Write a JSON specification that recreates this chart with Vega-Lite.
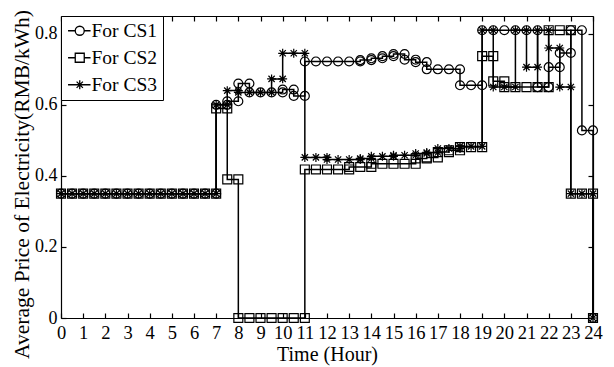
{
"$schema": "https://vega.github.io/schema/vega-lite/v6.json",
"width": 532, "height": 302,
"autosize": {"type": "none"},
"padding": {"left": 61, "top": 16, "right": 21, "bottom": 49},
"background": "white",
"config": {
  "font": "Liberation Serif",
  "view": {"stroke": null},
  "axis": {"labelFont": "Liberation Serif", "titleFont": "Liberation Serif", "labelColor": "black", "titleColor": "black", "titleFontWeight": "normal", "domainColor": "black", "domainWidth": 1.2, "tickColor": "black", "tickWidth": 1.2, "grid": false, "tickSize": -5, "labelOverlap": false, "labelFlush": false},
  "legend": {"labelFont": "Liberation Serif"}
},
"data": {"values": [
{"s":"For CS1","i":0,"t":0,"v":0.35},{"s":"For CS1","i":1,"t":0.5,"v":0.35},{"s":"For CS1","i":2,"t":1,"v":0.35},{"s":"For CS1","i":3,"t":1.5,"v":0.35},{"s":"For CS1","i":4,"t":2,"v":0.35},{"s":"For CS1","i":5,"t":2.5,"v":0.35},{"s":"For CS1","i":6,"t":3,"v":0.35},{"s":"For CS1","i":7,"t":3.5,"v":0.35},{"s":"For CS1","i":8,"t":4,"v":0.35},{"s":"For CS1","i":9,"t":4.5,"v":0.35},{"s":"For CS1","i":10,"t":5,"v":0.35},{"s":"For CS1","i":11,"t":5.5,"v":0.35},{"s":"For CS1","i":12,"t":6,"v":0.35},{"s":"For CS1","i":13,"t":6.5,"v":0.35},{"s":"For CS1","i":14,"t":7,"v":0.35},
{"s":"For CS1","i":15,"t":7,"v":0.6},{"s":"For CS1","i":16,"t":7.5,"v":0.6},{"s":"For CS1","i":17,"t":7.5,"v":0.61},{"s":"For CS1","i":18,"t":8,"v":0.61},{"s":"For CS1","i":19,"t":8,"v":0.66},{"s":"For CS1","i":20,"t":8.5,"v":0.66},{"s":"For CS1","i":21,"t":8.5,"v":0.635},{"s":"For CS1","i":22,"t":9,"v":0.635},{"s":"For CS1","i":23,"t":9.5,"v":0.635},{"s":"For CS1","i":24,"t":10,"v":0.635},{"s":"For CS1","i":25,"t":10,"v":0.643},{"s":"For CS1","i":26,"t":10.5,"v":0.643},{"s":"For CS1","i":27,"t":10.5,"v":0.625},{"s":"For CS1","i":28,"t":11,"v":0.625},
{"s":"For CS1","i":29,"t":11,"v":0.722},{"s":"For CS1","i":30,"t":11.5,"v":0.722},{"s":"For CS1","i":31,"t":12,"v":0.722},{"s":"For CS1","i":32,"t":12.5,"v":0.722},{"s":"For CS1","i":33,"t":13,"v":0.722},{"s":"For CS1","i":34,"t":13.5,"v":0.722},{"s":"For CS1","i":35,"t":13.5,"v":0.726},{"s":"For CS1","i":36,"t":14,"v":0.726},{"s":"For CS1","i":37,"t":14,"v":0.731},{"s":"For CS1","i":38,"t":14.5,"v":0.731},{"s":"For CS1","i":39,"t":14.5,"v":0.737},{"s":"For CS1","i":40,"t":15,"v":0.737},{"s":"For CS1","i":41,"t":15,"v":0.743},{"s":"For CS1","i":42,"t":15.5,"v":0.743},{"s":"For CS1","i":43,"t":15.5,"v":0.727},{"s":"For CS1","i":44,"t":16,"v":0.727},{"s":"For CS1","i":45,"t":16,"v":0.72},{"s":"For CS1","i":46,"t":16.5,"v":0.72},{"s":"For CS1","i":47,"t":16.5,"v":0.7},{"s":"For CS1","i":48,"t":17,"v":0.7},{"s":"For CS1","i":49,"t":17.5,"v":0.7},{"s":"For CS1","i":50,"t":18,"v":0.7},{"s":"For CS1","i":51,"t":18,"v":0.655},{"s":"For CS1","i":52,"t":18.5,"v":0.655},{"s":"For CS1","i":53,"t":19,"v":0.655},
{"s":"For CS1","i":54,"t":19,"v":0.81},{"s":"For CS1","i":55,"t":19.5,"v":0.81},{"s":"For CS1","i":56,"t":20,"v":0.81},{"s":"For CS1","i":57,"t":20.5,"v":0.81},{"s":"For CS1","i":58,"t":21,"v":0.81},{"s":"For CS1","i":59,"t":21.5,"v":0.81},{"s":"For CS1","i":60,"t":21.5,"v":0.65},{"s":"For CS1","i":61,"t":22,"v":0.65},{"s":"For CS1","i":62,"t":22,"v":0.706},{"s":"For CS1","i":63,"t":22.5,"v":0.706},{"s":"For CS1","i":64,"t":22.5,"v":0.746},{"s":"For CS1","i":65,"t":23,"v":0.746},{"s":"For CS1","i":66,"t":23,"v":0.81},{"s":"For CS1","i":67,"t":23.5,"v":0.81},{"s":"For CS1","i":68,"t":23.5,"v":0.528},{"s":"For CS1","i":69,"t":24,"v":0.528},{"s":"For CS1","i":70,"t":24,"v":0},
{"s":"For CS2","i":0,"t":0,"v":0.35},{"s":"For CS2","i":1,"t":0.5,"v":0.35},{"s":"For CS2","i":2,"t":1,"v":0.35},{"s":"For CS2","i":3,"t":1.5,"v":0.35},{"s":"For CS2","i":4,"t":2,"v":0.35},{"s":"For CS2","i":5,"t":2.5,"v":0.35},{"s":"For CS2","i":6,"t":3,"v":0.35},{"s":"For CS2","i":7,"t":3.5,"v":0.35},{"s":"For CS2","i":8,"t":4,"v":0.35},{"s":"For CS2","i":9,"t":4.5,"v":0.35},{"s":"For CS2","i":10,"t":5,"v":0.35},{"s":"For CS2","i":11,"t":5.5,"v":0.35},{"s":"For CS2","i":12,"t":6,"v":0.35},{"s":"For CS2","i":13,"t":6.5,"v":0.35},{"s":"For CS2","i":14,"t":7,"v":0.35},
{"s":"For CS2","i":15,"t":7,"v":0.59},{"s":"For CS2","i":16,"t":7.5,"v":0.59},{"s":"For CS2","i":17,"t":7.5,"v":0.39},{"s":"For CS2","i":18,"t":8,"v":0.39},{"s":"For CS2","i":19,"t":8,"v":0},{"s":"For CS2","i":20,"t":8.5,"v":0},{"s":"For CS2","i":21,"t":9,"v":0},{"s":"For CS2","i":22,"t":9.5,"v":0},{"s":"For CS2","i":23,"t":10,"v":0},{"s":"For CS2","i":24,"t":10.5,"v":0},{"s":"For CS2","i":25,"t":11,"v":0},
{"s":"For CS2","i":26,"t":11,"v":0.418},{"s":"For CS2","i":27,"t":11.5,"v":0.418},{"s":"For CS2","i":28,"t":12,"v":0.418},{"s":"For CS2","i":29,"t":12.5,"v":0.418},{"s":"For CS2","i":30,"t":13,"v":0.418},{"s":"For CS2","i":31,"t":13,"v":0.425},{"s":"For CS2","i":32,"t":13.5,"v":0.425},{"s":"For CS2","i":33,"t":14,"v":0.425},{"s":"For CS2","i":34,"t":14,"v":0.434},{"s":"For CS2","i":35,"t":14.5,"v":0.434},{"s":"For CS2","i":36,"t":15,"v":0.434},{"s":"For CS2","i":37,"t":15.5,"v":0.434},{"s":"For CS2","i":38,"t":16,"v":0.434},{"s":"For CS2","i":39,"t":16,"v":0.449},{"s":"For CS2","i":40,"t":16.5,"v":0.449},{"s":"For CS2","i":41,"t":16.5,"v":0.452},{"s":"For CS2","i":42,"t":17,"v":0.452},{"s":"For CS2","i":43,"t":17,"v":0.467},{"s":"For CS2","i":44,"t":17.5,"v":0.467},{"s":"For CS2","i":45,"t":17.5,"v":0.472},{"s":"For CS2","i":46,"t":18,"v":0.472},{"s":"For CS2","i":47,"t":18,"v":0.481},{"s":"For CS2","i":48,"t":18.5,"v":0.481},{"s":"For CS2","i":49,"t":19,"v":0.481},
{"s":"For CS2","i":50,"t":19,"v":0.737},{"s":"For CS2","i":51,"t":19.5,"v":0.737},{"s":"For CS2","i":52,"t":19.5,"v":0.666},{"s":"For CS2","i":53,"t":20,"v":0.666},{"s":"For CS2","i":54,"t":20,"v":0.65},{"s":"For CS2","i":55,"t":20.5,"v":0.65},{"s":"For CS2","i":56,"t":21,"v":0.65},{"s":"For CS2","i":57,"t":21.5,"v":0.65},{"s":"For CS2","i":58,"t":22,"v":0.65},{"s":"For CS2","i":59,"t":22,"v":0.81},{"s":"For CS2","i":60,"t":22.5,"v":0.81},{"s":"For CS2","i":61,"t":23,"v":0.81},{"s":"For CS2","i":62,"t":23,"v":0.35},{"s":"For CS2","i":63,"t":23.5,"v":0.35},{"s":"For CS2","i":64,"t":24,"v":0.35},{"s":"For CS2","i":65,"t":24,"v":0},
{"s":"For CS3","i":0,"t":0,"v":0.35},{"s":"For CS3","i":1,"t":0.5,"v":0.35},{"s":"For CS3","i":2,"t":1,"v":0.35},{"s":"For CS3","i":3,"t":1.5,"v":0.35},{"s":"For CS3","i":4,"t":2,"v":0.35},{"s":"For CS3","i":5,"t":2.5,"v":0.35},{"s":"For CS3","i":6,"t":3,"v":0.35},{"s":"For CS3","i":7,"t":3.5,"v":0.35},{"s":"For CS3","i":8,"t":4,"v":0.35},{"s":"For CS3","i":9,"t":4.5,"v":0.35},{"s":"For CS3","i":10,"t":5,"v":0.35},{"s":"For CS3","i":11,"t":5.5,"v":0.35},{"s":"For CS3","i":12,"t":6,"v":0.35},{"s":"For CS3","i":13,"t":6.5,"v":0.35},{"s":"For CS3","i":14,"t":7,"v":0.35},
{"s":"For CS3","i":15,"t":7,"v":0.6},{"s":"For CS3","i":16,"t":7.5,"v":0.6},{"s":"For CS3","i":17,"t":7.5,"v":0.64},{"s":"For CS3","i":18,"t":8,"v":0.64},{"s":"For CS3","i":19,"t":8,"v":0.635},{"s":"For CS3","i":20,"t":8.5,"v":0.635},{"s":"For CS3","i":21,"t":9,"v":0.635},{"s":"For CS3","i":22,"t":9.5,"v":0.635},{"s":"For CS3","i":23,"t":9.5,"v":0.673},{"s":"For CS3","i":24,"t":10,"v":0.673},{"s":"For CS3","i":25,"t":10,"v":0.745},{"s":"For CS3","i":26,"t":10.5,"v":0.745},{"s":"For CS3","i":27,"t":11,"v":0.745},
{"s":"For CS3","i":28,"t":11,"v":0.452},{"s":"For CS3","i":29,"t":11.5,"v":0.452},{"s":"For CS3","i":30,"t":12,"v":0.452},{"s":"For CS3","i":31,"t":12,"v":0.446},{"s":"For CS3","i":32,"t":12.5,"v":0.446},{"s":"For CS3","i":33,"t":13,"v":0.446},{"s":"For CS3","i":34,"t":13.5,"v":0.446},{"s":"For CS3","i":35,"t":13.5,"v":0.449},{"s":"For CS3","i":36,"t":14,"v":0.449},{"s":"For CS3","i":37,"t":14,"v":0.455},{"s":"For CS3","i":38,"t":14.5,"v":0.455},{"s":"For CS3","i":39,"t":15,"v":0.455},{"s":"For CS3","i":40,"t":15,"v":0.458},{"s":"For CS3","i":41,"t":15.5,"v":0.458},{"s":"For CS3","i":42,"t":16,"v":0.458},{"s":"For CS3","i":43,"t":16,"v":0.463},{"s":"For CS3","i":44,"t":16.5,"v":0.463},{"s":"For CS3","i":45,"t":16.5,"v":0.466},{"s":"For CS3","i":46,"t":17,"v":0.466},{"s":"For CS3","i":47,"t":17,"v":0.477},{"s":"For CS3","i":48,"t":17.5,"v":0.477},{"s":"For CS3","i":49,"t":18,"v":0.477},{"s":"For CS3","i":50,"t":18,"v":0.483},{"s":"For CS3","i":51,"t":18.5,"v":0.483},{"s":"For CS3","i":52,"t":19,"v":0.483},
{"s":"For CS3","i":53,"t":19,"v":0.81},{"s":"For CS3","i":54,"t":19.5,"v":0.81},{"s":"For CS3","i":55,"t":19.5,"v":0.65},{"s":"For CS3","i":56,"t":20,"v":0.65},{"s":"For CS3","i":57,"t":20.5,"v":0.65},{"s":"For CS3","i":58,"t":20.5,"v":0.81},{"s":"For CS3","i":59,"t":21,"v":0.81},{"s":"For CS3","i":60,"t":21,"v":0.706},{"s":"For CS3","i":61,"t":21.5,"v":0.706},{"s":"For CS3","i":62,"t":21.5,"v":0.81},{"s":"For CS3","i":63,"t":22,"v":0.81},{"s":"For CS3","i":64,"t":22,"v":0.76},{"s":"For CS3","i":65,"t":22.5,"v":0.76},{"s":"For CS3","i":66,"t":22.5,"v":0.65},{"s":"For CS3","i":67,"t":23,"v":0.65},{"s":"For CS3","i":68,"t":23,"v":0.35},{"s":"For CS3","i":69,"t":23.5,"v":0.35},{"s":"For CS3","i":70,"t":24,"v":0.35},{"s":"For CS3","i":71,"t":24,"v":0}
]},
"layer": [
  {"mark": {"type": "line", "color": "black", "strokeWidth": 1.5},
   "encoding": {
     "x": {"field": "t", "type": "quantitative", "scale": {"domain": [0, 24], "nice": false, "zero": false},
           "axis": {"orient": "bottom", "values": [0,1,2,3,4,5,6,7,8,9,10,11,12,13,14,15,16,17,18,19,20,21,22,23,24], "labelFont": "Liberation Serif", "labelFontSize": 18.5, "labelPadding": 10, "title": "Time (Hour)", "titleFont": "Liberation Serif", "titleFontWeight": "normal", "titleFontSize": 20, "titleBaseline": "alphabetic", "titleY": 42}},
     "y": {"field": "v", "type": "quantitative", "scale": {"domain": [0, 0.85], "nice": false},
           "axis": {"orient": "left", "values": [0, 0.2, 0.4, 0.6, 0.8], "format": "~g", "labelFont": "Liberation Serif", "labelFontSize": 18, "labelPadding": 9, "title": "Average Price of Electricity(RMB/kWh)", "titleFont": "Liberation Serif", "titleFontWeight": "normal", "titleFontSize": 21.5, "titleBaseline": "alphabetic", "titleAngle": 270, "titleX": -33, "titleY": 168}},
     "detail": {"field": "s"},
     "order": {"field": "i"}
   }},
  {"mark": {"type": "point", "filled": false, "stroke": "black", "strokeWidth": 1.2, "size": 80, "opacity": 1},
   "encoding": {
     "x": {"field": "t", "type": "quantitative", "axis": null},
     "y": {"field": "v", "type": "quantitative", "axis": null},
     "shape": {"field": "s", "type": "nominal", "scale": {"domain": ["For CS1", "For CS2", "For CS3"], "range": ["circle", "square", "M-1,0H1M0,-1V1M-0.7,-0.7L0.7,0.7M-0.7,0.7L0.7,-0.7"]}, "legend": null}
   }},
  {"mark": {"type": "point", "filled": false, "stroke": "black", "strokeWidth": 1.2, "size": 81, "opacity": 0},
   "encoding": {
     "x": {"field": "t", "type": "quantitative", "axis": {"orient": "top", "values": [0,1,2,3,4,5,6,7,8,9,10,11,12,13,14,15,16,17,18,19,20,21,22,23,24], "labels": false, "title": null}},
     "y": {"field": "v", "type": "quantitative", "axis": {"orient": "right", "values": [0, 0.2, 0.4, 0.6, 0.8], "labels": false, "title": null}},
     "shape": {"field": "s", "type": "nominal", "scale": {"domain": ["For CS1", "For CS2", "For CS3"], "range": ["M-2.6,0H-1M1,0H2.4M1,0A1,1 0 1 1 -1,0A1,1 0 1 1 1,0", "M-2.6,0H-1M1,0H2.4M-1,-1H1V1H-1Z", "M-2.6,0H2.4M0,-1V1M-0.7,-0.7L0.7,0.7M-0.7,0.7L0.7,-0.7"]},
       "legend": {"orient": "top-left", "offset": 0, "title": null, "labelFont": "Liberation Serif", "labelFontSize": 19.5, "labelColor": "black", "symbolSize": 81, "symbolStrokeColor": "black", "symbolStrokeWidth": 1.3, "symbolFillColor": "transparent", "symbolOpacity": 1, "strokeColor": "black", "fillColor": "white", "padding": 5, "rowPadding": 6, "symbolOffset": 4, "labelOffset": 2,
         "encode": {"symbols": {"update": {"opacity": {"value": 1}, "stroke": {"value": "black"}, "fill": {"value": "transparent"}}}}}}
   }}
],
"resolve": {"scale": {"shape": "independent"}, "axis": {"x": "independent", "y": "independent"}}
}
